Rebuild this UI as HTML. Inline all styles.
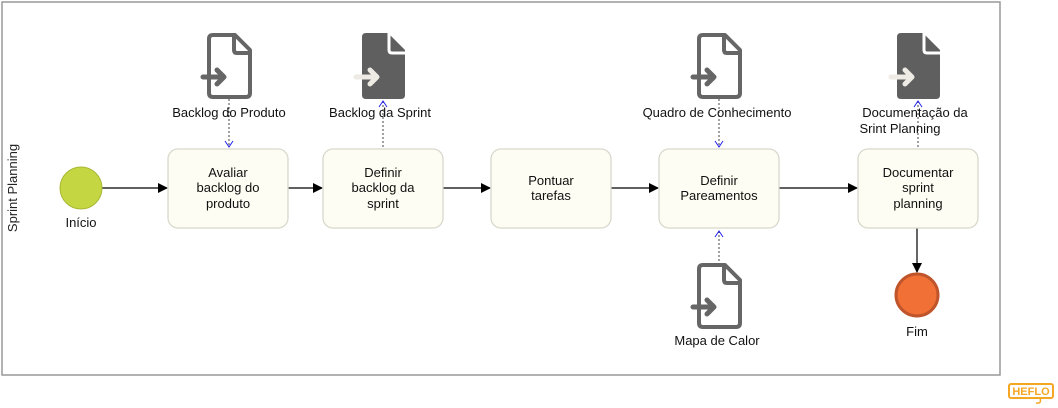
<!DOCTYPE html>
<html><head><meta charset="utf-8"><style>
html,body{margin:0;padding:0;background:#fff;}
svg{display:block;font-family:"Liberation Sans",sans-serif;}
</style></head><body>
<svg width="1058" height="408" viewBox="0 0 1058 408" xmlns="http://www.w3.org/2000/svg">
<defs>
<g id="docO">
<path d="M6,2 H28 L43,17 V60 Q43,64 39,64 H6 Q2,64 2,60 V6 Q2,2 6,2 Z" fill="#fff" stroke="#666" stroke-width="4" stroke-linejoin="round"/>
<path d="M27,2 V17 Q27,20 30,20 H43" fill="none" stroke="#666" stroke-width="4"/>
<path d="M-4,44 H17 M10,37 L17,44 L10,51" fill="none" stroke="#666" stroke-width="5" stroke-linecap="round" stroke-linejoin="round"/>
</g>
<g id="docF">
<path d="M6,0 H28 L45,17 V62 Q45,66 41,66 H6 Q2,66 2,62 V4 Q2,0 6,0 Z" fill="#5f5f5f"/>
<path d="M29,0 V17 Q29,20 32,20 H45" fill="none" stroke="#fff" stroke-width="3"/>
<path d="M-4,44 H17 M10,37 L17,44 L10,51" fill="none" stroke="#eeebe4" stroke-width="5" stroke-linecap="round" stroke-linejoin="round"/>
</g>
<marker id="ar" markerWidth="10" markerHeight="10" refX="9" refY="5" orient="auto" markerUnits="userSpaceOnUse"><path d="M0,0 L10,5 L0,10 Z" fill="#000"/></marker>
</defs>
<rect x="2" y="2" width="998" height="373" fill="#fff" stroke="#999" stroke-width="1.5"/>
<text transform="translate(17,188) rotate(-90)" text-anchor="middle" font-size="13" fill="#222">Sprint Planning</text>

<!-- flow lines -->
<g stroke="#000" stroke-width="1.2" fill="none" marker-end="url(#ar)">
<line x1="102" y1="188" x2="167" y2="188"/>
<line x1="288" y1="188" x2="322" y2="188"/>
<line x1="443" y1="188" x2="490" y2="188"/>
<line x1="611" y1="188" x2="658" y2="188"/>
<line x1="779" y1="188" x2="857" y2="188"/>
<line x1="917" y1="228" x2="917" y2="272"/>
</g>
<!-- dotted associations -->
<g stroke="#444" stroke-width="1" stroke-dasharray="2,2" fill="none">
<line x1="229" y1="99" x2="229" y2="147"/>
<line x1="383" y1="101" x2="383" y2="149"/>
<line x1="719" y1="99" x2="719" y2="147"/>
<line x1="719" y1="231" x2="719" y2="263"/>
<line x1="918" y1="101" x2="918" y2="149"/>
</g>
<g stroke="#2222ee" stroke-width="1" fill="none">
<path d="M225,141 L229,147 L233,141"/>
<path d="M379,107 L383,101 L387,107"/>
<path d="M715,141 L719,147 L723,141"/>
<path d="M715,237 L719,231 L723,237"/>
<path d="M914,107 L918,101 L922,107"/>
</g>

<use href="#docO" x="207" y="33"/>
<use href="#docF" x="360" y="33"/>
<use href="#docO" x="697" y="33"/>
<use href="#docF" x="895" y="33"/>
<use href="#docO" x="697" y="263"/>

<g font-size="13" fill="#111" text-anchor="middle">
<text x="229" y="117">Backlog do Produto</text>
<text x="380" y="117">Backlog da Sprint</text>
<text x="717" y="117">Quadro de Conhecimento</text>
<text x="915" y="117">Documentação da</text>
<text x="900" y="133">Srint Planning</text>
<text x="717" y="345">Mapa de Calor</text>
<text x="81" y="227">Início</text>
<text x="917" y="336">Fim</text>
</g>

<g fill="#fdfdf3" stroke="#d8d8cc" stroke-width="1.3">
<rect x="168" y="149" width="120" height="79" rx="10"/>
<rect x="323" y="149" width="120" height="79" rx="10"/>
<rect x="491" y="149" width="120" height="79" rx="10"/>
<rect x="659" y="149" width="120" height="79" rx="10"/>
<rect x="858" y="149" width="120" height="79" rx="10"/>
</g>
<g font-size="13" fill="#111" text-anchor="middle">
<text x="228" y="177">Avaliar</text><text x="228" y="192">backlog do</text><text x="228" y="208">produto</text>
<text x="383" y="177">Definir</text><text x="383" y="192">backlog da</text><text x="383" y="208">sprint</text>
<text x="551" y="185">Pontuar</text><text x="551" y="200">tarefas</text>
<text x="719" y="185">Definir</text><text x="719" y="200">Pareamentos</text>
<text x="918" y="177">Documentar</text><text x="918" y="192">sprint</text><text x="918" y="208">planning</text>
</g>

<circle cx="81" cy="188" r="21" fill="#c5d643" stroke="#a8b835" stroke-width="1"/>
<circle cx="917" cy="295" r="21" fill="#f07036" stroke="#c0542a" stroke-width="3"/>

<g>
<rect x="1009" y="384" width="44" height="14" rx="2" fill="none" stroke="#f5a623" stroke-width="2"/>
<text x="1031" y="395" font-size="11" font-weight="bold" fill="#f5a623" text-anchor="middle">HEFLO</text>
<path d="M1040,398 Q1042,404 1036,403" fill="none" stroke="#f5a623" stroke-width="1.5"/>
</g>
</svg>
</body></html>
